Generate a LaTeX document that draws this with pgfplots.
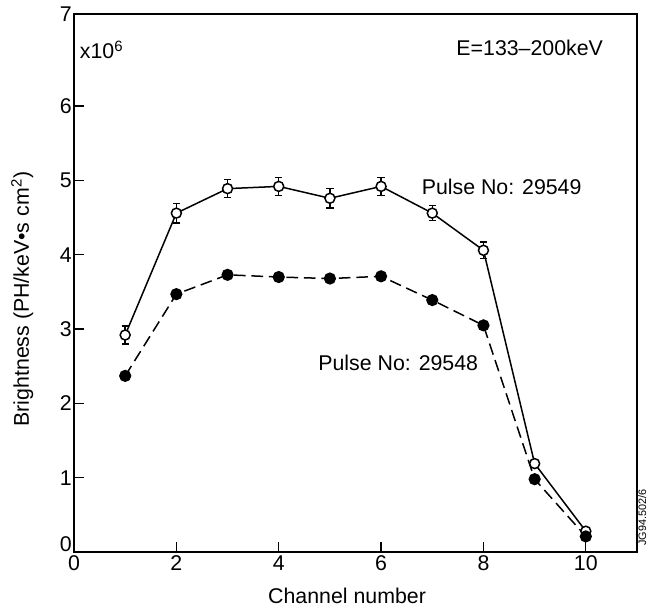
\documentclass[border=0pt]{standalone}
\usepackage{fontspec}
\setmainfont{Liberation Sans}
\usepackage{pgfplots}
\pgfplotsset{compat=1.18}

% brightness per channel, in units of 10^6
\pgfplotstableread{
ch  y     err
1   2.92  0.12
2   4.56  0.13
3   4.89  0.12
4   4.92  0.12
5   4.76  0.13
6   4.92  0.12
7   4.56  0.10
8   4.06  0.11
9   1.19  0.00
10  0.28  0.00
}\pulseA
\pgfplotstableread{
ch  y
1   2.37
2   3.47
3   3.73
4   3.70
5   3.68
6   3.71
7   3.39
8   3.05
9   0.98
10  0.21
}\pulseB

\begin{document}
\begin{tikzpicture}[font=\fontsize{12.8}{15}\selectfont]
\begin{axis}[
  name=ax,
  scale only axis,
  width=337.8pt, height=322.8pt,
  xmin=0, xmax=11, ymin=0, ymax=7.24,
  xtick={0,2,...,10},
  ytick={1,2,...,6,7.24},
  yticklabels={1,2,3,4,5,6,7},
  extra y ticks={0},
  extra y tick labels={0},
  extra y tick style={yticklabel style={yshift=5pt}},
  tick pos=left,
  tick align=inside,
  major tick length=6pt,
  axis line style={line width=0.9pt},
  tick style={line width=0.8pt, black},
  /pgf/number format/assume math mode=true,
  tick label style={font=\fontsize{12.8}{15}\selectfont},
  yticklabel style={inner sep=1.2pt},
  xticklabel style={inner sep=2pt},
  xlabel={Channel number},
  ylabel={Brightness (PH/keV•s cm\textsuperscript{2})},
  xlabel style={at={(axis description cs:0.485,-0.082)}, anchor=center},
  ylabel style={at={(axis description cs:-0.092,0.47)}, anchor=center, rotate=0},
  clip=false,
]
\addplot[black, line width=0.9pt, mark=*, mark size=3pt,
  mark options={solid, fill=white, line width=0.9pt},
  error bars/.cd, y dir=both, y explicit,
  error bar style={line width=0.9pt},
  error mark options={rotate=90, mark size=2.2pt, line width=0.9pt}]
  table[x=ch, y=y, y error=err] {\pulseA};
\addplot[black, line width=0.9pt, dash pattern=on 7pt off 3.5pt,
  mark=*, mark size=3.2pt, mark options={solid, fill=black}]
  table[x=ch, y=y] {\pulseB};

\node[anchor=west] at (axis cs:0.0,6.76) {x10\textsuperscript{6}};
\node[anchor=east] at (axis cs:10.45,6.78) {E=133–200keV};
\node[anchor=west] at (axis cs:6.68,4.91) {Pulse No: 29549};
\node[anchor=west] at (axis cs:4.66,2.54) {Pulse No: 29548};
\node[anchor=north west, rotate=90, inner sep=0.5pt,
  font=\fontsize{6.5}{7}\selectfont] at ([yshift=3pt]rel axis cs:1,0) {JG94.502/6};
\end{axis}
\pgfresetboundingbox
\path[use as bounding box]
  ([shift={(-44.4pt,-35.4pt)}]ax.south west) rectangle
  ([shift={(345.6pt,331.2pt)}]ax.south west);
\end{tikzpicture}
\end{document}
